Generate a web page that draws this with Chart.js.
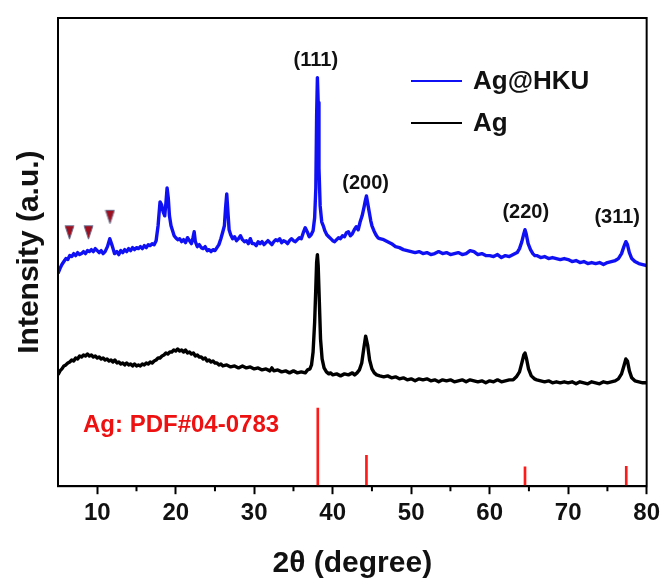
<!DOCTYPE html>
<html lang="en">
<head>
<meta charset="UTF-8">
<title>XRD patterns of Ag@HKU and Ag</title>
<script src="https://cdn.jsdelivr.net/npm/chart.js"></script>
<style>
  body { margin: 0; background: #fff; }
  #wrap { width: 665px; height: 583px; }
</style>
</head>
<body>
<div id="wrap"><canvas id="chart" width="665" height="583"></canvas></div>
<script>
const FONT = 'Arial, "Liberation Sans", Helvetica, sans-serif';

// Ag@HKU pattern (2-theta in degrees, intensity in a.u., offset upward)
const agHkuTheta = [
  5.0, 5.25, 5.5, 5.75, 6.0, 6.25, 6.5, 6.75, 7.0, 7.25,
  7.5, 7.75, 8.0, 8.25, 8.5, 8.75, 9.0, 9.25, 9.5, 9.75,
  10.0, 10.25, 10.5, 10.75, 11.0, 11.3, 11.6, 11.9, 12.2, 12.5,
  12.75, 13.0, 13.25, 13.5, 13.75, 14.0, 14.25, 14.5, 14.75, 15.0,
  15.25, 15.5, 15.75, 16.0, 16.25, 16.5, 16.75, 17.0, 17.25, 17.5,
  17.75, 18.0, 18.2, 18.4, 18.6, 18.75, 18.9, 19.05, 19.2, 19.4,
  19.6, 19.8, 20.0, 20.25, 20.5, 20.75, 21.0, 21.25, 21.5, 21.75,
  22.0, 22.2, 22.35, 22.5, 22.75, 23.0, 23.25, 23.5, 23.75, 24.0,
  24.25, 24.5, 24.75, 25.0, 25.25, 25.5, 25.75, 26.0, 26.2, 26.35,
  26.5, 26.65, 26.8, 27.0, 27.25, 27.5, 27.75, 28.0, 28.25, 28.5,
  28.75, 29.0, 29.25, 29.5, 29.75, 30.0, 30.25, 30.5, 30.75, 31.0,
  31.25, 31.5, 31.75, 32.0, 32.25, 32.5, 32.75, 33.0, 33.25, 33.5,
  33.75, 34.0, 34.25, 34.5, 34.75, 35.0, 35.25, 35.5, 35.75, 36.0,
  36.25, 36.5, 36.75, 37.0, 37.25, 37.5, 37.7, 37.85, 37.95, 38.05,
  38.15, 38.25, 38.4, 38.6, 38.8, 39.0, 39.25, 39.5, 39.75, 40.0,
  40.25, 40.5, 40.75, 41.0, 41.25, 41.5, 41.75, 42.0, 42.25, 42.5,
  42.75, 43.0, 43.25, 43.5, 43.75, 44.0, 44.15, 44.3, 44.45, 44.65,
  44.85, 45.0, 45.25, 45.5, 45.75, 46.0, 46.5, 47.0, 47.5, 48.0,
  48.5, 49.0, 49.5, 50.0, 50.5, 51.0, 51.5, 52.0, 52.5, 53.0,
  53.5, 54.0, 54.5, 55.0, 55.5, 56.0, 56.5, 57.0, 57.5, 58.0,
  58.5, 59.0, 59.5, 60.0, 60.5, 61.0, 61.5, 62.0, 62.5, 63.0,
  63.5, 63.8, 64.1, 64.35, 64.5, 64.65, 64.9, 65.2, 65.5, 65.75,
  66.0, 66.5, 67.0, 67.5, 68.0, 68.5, 69.0, 69.5, 70.0, 70.5,
  71.0, 71.5, 72.0, 72.5, 73.0, 73.5, 74.0, 74.5, 75.0, 75.5,
  76.0, 76.4, 76.8, 77.1, 77.35, 77.55, 77.8, 78.1, 78.5, 79.0,
  79.5, 80.0
];
const agHkuIntensity = [
  214, 219, 223, 226, 229, 228, 232, 231, 234, 232,
  235, 233, 234, 236, 234, 237, 236, 238, 236, 239,
  237, 235, 237, 234, 236, 241, 249, 242, 234, 236,
  233, 237, 235, 238, 236, 239, 237, 240, 238, 240,
  239, 241, 239, 242, 240, 243, 242, 244, 243, 247,
  262, 286, 283, 276, 272, 285, 300, 290, 272, 262,
  257, 252, 250, 248, 249, 246, 248, 245, 250, 247,
  244, 250, 256, 246, 241, 243, 240, 239, 241, 237,
  238, 236, 238, 237, 240, 243, 249, 256, 262, 280,
  294, 276, 258, 253, 249, 251, 247, 249, 252, 248,
  246, 247, 244, 249, 244, 244, 242, 246, 244, 246,
  243, 245, 247, 245, 243, 246, 248, 247, 249, 245,
  247, 246, 244, 247, 249, 247, 246, 248, 250, 249,
  255, 260, 256, 251, 253, 257, 270, 300, 372, 411,
  386, 320, 282, 266, 262, 257, 253, 251, 249, 247,
  246, 248, 250, 249, 252, 251, 255, 256, 252, 254,
  258, 261, 258, 266, 272, 281, 287, 292, 285, 276,
  267, 262, 257, 253, 250, 249, 248, 246, 244, 241,
  240, 238, 237, 236, 235, 236, 234, 235, 233, 234,
  236, 234, 235, 233, 234, 235, 233, 234, 237, 236,
  233, 234, 232, 232, 231, 233, 230, 232, 231, 233,
  235, 239, 246, 254, 258, 254, 244, 238, 234, 232,
  232, 230, 231, 229, 230, 229, 228, 229, 228, 226,
  227, 225, 226, 224, 225, 224, 225, 223, 225, 226,
  227, 229, 234, 241, 246, 243, 235, 229, 226, 224,
  223, 222
];

// Ag pattern
const agTheta = [
  5.0, 5.25, 5.5, 5.75, 6.0, 6.25, 6.5, 6.75, 7.0, 7.25,
  7.5, 7.75, 8.0, 8.25, 8.5, 8.75, 9.0, 9.25, 9.5, 9.75,
  10.0, 10.25, 10.5, 10.75, 11.0, 11.25, 11.5, 11.75, 12.0, 12.25,
  12.5, 12.75, 13.0, 13.25, 13.5, 13.75, 14.0, 14.25, 14.5, 14.75,
  15.0, 15.25, 15.5, 15.75, 16.0, 16.25, 16.5, 16.75, 17.0, 17.25,
  17.5, 17.75, 18.0, 18.25, 18.5, 18.75, 19.0, 19.25, 19.5, 19.75,
  20.0, 20.25, 20.5, 20.75, 21.0, 21.25, 21.5, 21.75, 22.0, 22.25,
  22.5, 22.75, 23.0, 23.25, 23.5, 23.75, 24.0, 24.25, 24.5, 24.75,
  25.0, 25.25, 25.5, 25.75, 26.0, 26.5, 27.0, 27.5, 28.0, 28.5,
  29.0, 29.5, 30.0, 30.5, 31.0, 31.5, 32.0, 32.25, 32.5, 33.0,
  33.5, 34.0, 34.5, 35.0, 35.5, 36.0, 36.5, 36.8, 37.1, 37.3,
  37.5, 37.7, 37.85, 37.95, 38.05, 38.15, 38.3, 38.45, 38.65, 38.9,
  39.2, 39.5, 39.75, 40.0, 40.5, 41.0, 41.5, 42.0, 42.5, 42.8,
  43.1, 43.4, 43.7, 43.95, 44.2, 44.45, 44.7, 45.0, 45.3, 45.6,
  46.0, 46.5, 47.0, 47.5, 48.0, 48.5, 49.0, 49.5, 50.0, 50.5,
  51.0, 51.5, 52.0, 52.5, 53.0, 53.5, 54.0, 54.5, 55.0, 55.5,
  56.0, 56.5, 57.0, 57.5, 58.0, 58.5, 59.0, 59.5, 60.0, 60.5,
  61.0, 61.5, 62.0, 62.5, 63.0, 63.4, 63.8, 64.1, 64.35, 64.5,
  64.7, 64.95, 65.3, 65.7, 66.0, 66.5, 67.0, 67.5, 68.0, 68.5,
  69.0, 69.5, 70.0, 70.5, 71.0, 71.5, 72.0, 72.5, 73.0, 73.5,
  74.0, 74.5, 75.0, 75.5, 76.0, 76.4, 76.8, 77.1, 77.35, 77.55,
  77.8, 78.1, 78.5, 79.0, 79.5, 80.0
];
const agIntensity = [
  112, 116, 118, 121, 122, 124, 125, 127, 126, 129,
  128, 131, 130, 132, 131, 133, 131, 132, 130, 131,
  129, 130, 128, 129, 127, 128, 126, 127, 125, 127,
  124, 125, 123, 124, 122, 124, 122, 123, 121, 123,
  121, 122, 121, 123, 122, 124, 123, 125, 124, 126,
  127, 129, 129, 131, 132, 134, 133, 135, 135, 137,
  136, 138, 136, 137, 135, 137, 134, 135, 133, 134,
  131, 132, 130, 130, 128, 129, 126, 127, 125, 126,
  124, 124, 122, 123, 121, 122, 120, 121, 119, 121,
  119, 120, 118, 119, 117, 118, 116, 119, 116, 117,
  115, 116, 114, 116, 114, 115, 114, 117, 118, 122,
  135, 165, 200, 225, 233, 222, 185, 148, 128, 119,
  115, 113, 114, 112, 113, 111, 113, 112, 114, 112,
  114, 117, 124, 138, 151, 142, 127, 118, 114, 112,
  111, 110, 111, 109, 110, 108, 109, 107, 108, 106,
  108, 107, 108, 106, 107, 105, 107, 106, 107, 105,
  106, 107, 105, 107, 106, 105, 106, 104, 106, 105,
  107, 105, 106, 107, 107, 110, 115, 124, 132, 134,
  128, 118, 111, 108, 107, 106, 105, 106, 104, 105,
  104, 105, 104, 105, 103, 105, 104, 103, 105, 104,
  103, 105, 104, 105, 106, 108, 113, 121, 128, 126,
  116, 109, 106, 105, 104, 104
];

// reference card PDF#04-0783 stick positions
const pdfCardLabel = 'Ag: PDF#04-0783';
const pdfTheta = [38.1, 44.3, 64.5, 77.4];
const pdfIntensity = [78.6, 31, 19.6, 20];

// Miller indices over the Ag@HKU peaks
const peakLabels = ['(111)', '(200)', '(220)', '(311)'];
const peakLabelTheta = [37.85, 44.2, 64.6, 76.25];
const peakLabelIntensity = [428, 305, 275, 270];

// low-angle framework reflections marked with triangles
const markerTheta = [6.46, 8.88, 11.62];
const markerIntensity = [255.5, 255.5, 271];

const legendSeries = ['Ag@HKU', 'Ag'];
const xTickValues = [10, 20, 30, 40, 50, 60, 70, 80];

function toPoints(xs, ys) {
  return xs.map((v, i) => ({ x: v, y: ys[i] }));
}

// small downward triangle used as a point style
function makeTriangle() {
  const c = document.createElement('canvas');
  c.width = 11; c.height = 16;
  const g = c.getContext('2d');
  g.beginPath();
  g.moveTo(1, 1.5);
  g.lineTo(10, 1.5);
  g.lineTo(5.5, 15);
  g.closePath();
  g.fillStyle = '#9e1020';
  g.fill();
  g.strokeStyle = '#6e7390';
  g.lineWidth = 1;
  g.stroke();
  return c;
}

const xrdDecor = {
  id: 'xrdDecor',
  afterDatasetsDraw(chart) {
    const { ctx, chartArea: a, scales: { x, y } } = chart;
    ctx.save();

    // closed frame
    ctx.strokeStyle = '#000';
    ctx.lineWidth = 2;
    ctx.strokeRect(a.left, a.top, a.right - a.left, a.bottom - a.top);

    // minor ticks between the labelled ones
    ctx.beginPath();
    for (let v = 15; v < 80; v += 10) {
      const px = x.getPixelForValue(v);
      ctx.moveTo(px, a.bottom);
      ctx.lineTo(px, a.bottom + 5);
    }
    ctx.stroke();

    ctx.textBaseline = 'middle';

    // peak indices
    ctx.fillStyle = '#111';
    ctx.font = 'bold 20px ' + FONT;
    ctx.textAlign = 'center';
    peakLabels.forEach((t, i) => {
      ctx.fillText(t, x.getPixelForValue(peakLabelTheta[i]), y.getPixelForValue(peakLabelIntensity[i]));
    });

    // reference card name
    ctx.fillStyle = '#ee1111';
    ctx.font = 'bold 24px ' + FONT;
    ctx.textAlign = 'left';
    ctx.fillText(pdfCardLabel, a.left + 25, a.top + 407);

    // legend
    ctx.font = 'bold 26px ' + FONT;
    legendSeries.forEach((name, i) => {
      const ds = chart.data.datasets.find(d => d.label === name);
      const ly = a.top + 63 + i * 42;
      ctx.strokeStyle = ds.borderColor;
      ctx.lineWidth = 2;
      ctx.beginPath();
      ctx.moveTo(a.left + 353, ly);
      ctx.lineTo(a.left + 404, ly);
      ctx.stroke();
      ctx.fillStyle = '#111';
      ctx.fillText(name, a.left + 415, ly + 1);
    });

    ctx.restore();
  }
};

new Chart(document.getElementById('chart'), {
  type: 'line',
  data: {
    datasets: [
      {
        label: 'Ag@HKU',
        data: toPoints(agHkuTheta, agHkuIntensity),
        borderColor: '#1010f5',
        borderWidth: 3.4,
        borderJoinStyle: 'round',
        pointRadius: 0,
        tension: 0
      },
      {
        label: 'Ag',
        data: toPoints(agTheta, agIntensity),
        borderColor: '#000000',
        borderWidth: 3.4,
        borderJoinStyle: 'round',
        pointRadius: 0,
        tension: 0
      },
      {
        label: 'PDF#04-0783',
        type: 'bar',
        data: toPoints(pdfTheta, pdfIntensity),
        backgroundColor: '#ff1a1a',
        barThickness: 2
      },
      {
        label: 'markers',
        data: toPoints(markerTheta, markerIntensity),
        showLine: false,
        pointStyle: makeTriangle(),
        pointRadius: 6
      }
    ]
  },
  options: {
    responsive: false,
    animation: false,
    layout: { padding: { left: 12, right: 18, top: 18, bottom: 0 } },
    plugins: {
      legend: { display: false },
      tooltip: { enabled: false }
    },
    scales: {
      x: {
        type: 'linear',
        min: 5,
        max: 80,
        offset: false,
        grid: {
          display: true,
          offset: false,
          drawOnChartArea: false,
          tickLength: 8,
          tickWidth: 2,
          tickColor: '#000'
        },
        border: { display: true, color: '#000', width: 2 },
        afterBuildTicks: (scale) => {
          scale.ticks = xTickValues.map(v => ({ value: v }));
        },
        ticks: {
          color: '#111',
          font: { family: FONT, size: 24, weight: 'bold' },
          padding: 5,
          autoSkip: false,
          maxRotation: 0
        },
        title: {
          display: true,
          text: '2θ (degree)',
          color: '#111',
          font: { family: FONT, size: 30, weight: 'bold' },
          padding: { top: 13, bottom: 1 }
        }
      },
      y: {
        min: 0,
        max: 471,
        grid: { display: false, drawTicks: false, tickLength: 0 },
        border: { display: true, color: '#000', width: 2 },
        ticks: { display: false },
        title: {
          display: true,
          text: 'Intensity (a.u.)',
          color: '#111',
          font: { family: FONT, size: 30, weight: 'bold' },
          padding: { top: 0, bottom: 10 }
        }
      }
    }
  },
  plugins: [xrdDecor]
});
</script>
</body>
</html>
